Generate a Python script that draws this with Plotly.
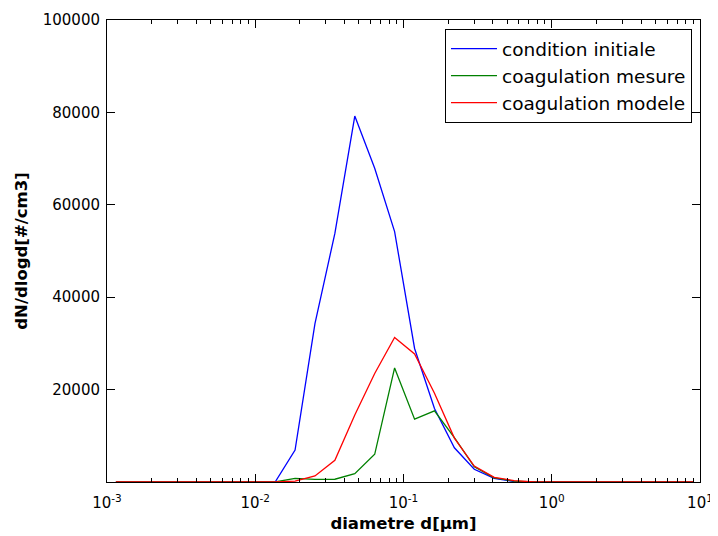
import plotly.graph_objects as go

diametre = [0.001148, 0.001563, 0.002132, 0.002904, 0.003955, 0.005388, 0.007339, 0.0100,
            0.01362, 0.01856, 0.02528, 0.03444, 0.04693, 0.06393, 0.0871, 0.1188,
            0.1618, 0.2204, 0.3002, 0.4090, 0.5572, 0.7591, 1.034, 1.409,
            1.919, 2.615, 3.563, 4.854, 6.613, 9.01]

condition_initiale = [0, 0, 0, 0, 0, 0, 0, 0,
                      0, 6900, 34300, 53800, 79200, 67900, 54200, 28900,
                      15900, 7400, 2750, 800, 100, 0, 0, 0,
                      0, 0, 0, 0, 0, 0]

coagulation_mesure = [0, 0, 0, 0, 0, 0, 0, 0,
                      0, 800, 550, 600, 1800, 6000, 24700, 13600,
                      15400, 9600, 3300, 900, 200, 0, 0, 0,
                      0, 0, 0, 0, 0, 0]

coagulation_modele = [0, 0, 0, 0, 0, 0, 0, 0,
                      0, 200, 1300, 4700, 14500, 23500, 31300, 27700,
                      19200, 9500, 3460, 1000, 300, 0, 0, 0,
                      0, 0, 0, 0, 0, 0]

series_names = ["condition initiale", "coagulation mesure", "coagulation modele"]
series_colors = ["#0000ff", "#008000", "#ff0000"]

x_tickvals = [0.001, 0.01, 0.1, 1, 10]
x_ticktext = ["10<sup>-3</sup>", "10<sup>-2</sup>", "10<sup>-1</sup>", "10<sup>0</sup>", "10<sup>1</sup>"]
x_minor_tickvals = [m * d for d in [0.001, 0.01, 0.1, 1] for m in range(2, 10)]
y_tickvals = [0, 20000, 40000, 60000, 80000, 100000]
y_ticktext = ["", "20000", "40000", "60000", "80000", "100000"]

fig = go.Figure()
for name, vals, col in zip(series_names,
                           [condition_initiale, coagulation_mesure, coagulation_modele],
                           series_colors):
    fig.add_trace(go.Scatter(x=diametre, y=vals, mode="lines", name=name,
                             line=dict(color=col, width=1.3)))

fig.update_layout(
    width=710, height=528,
    margin=dict(l=99, r=18, t=12, b=54),
    paper_bgcolor="white", plot_bgcolor="white",
    font=dict(family="DejaVu Sans", size=15, color="black"),
    showlegend=True,
    legend=dict(x=0.9865, y=0.9805, xanchor="right", yanchor="top",
                bordercolor="black", borderwidth=1, bgcolor="white",
                font=dict(size=18.5, family="DejaVu Sans"),
                itemwidth=46, entrywidth=242, entrywidthmode="pixels"),
)
fig.update_xaxes(
    type="log", range=[-3, 1], automargin=False,
    tickvals=x_tickvals, ticktext=x_ticktext,
    ticks="inside", ticklen=8, tickwidth=1, tickcolor="black",
    ticklabelstandoff=7,
    minor=dict(tickvals=x_minor_tickvals, ticks="inside", ticklen=4,
               tickcolor="black", showgrid=False),
    showline=True, linecolor="black", linewidth=1, mirror="allticks",
    showgrid=False, zeroline=False,
    tickfont=dict(size=15),
    title=dict(text="<b>diametre d[µm]</b>", font=dict(size=16.5), standoff=6),
)
fig.update_yaxes(
    range=[0, 100000], automargin=False,
    tickvals=y_tickvals, ticktext=y_ticktext,
    ticks="inside", ticklen=8, tickwidth=1, tickcolor="black",
    ticklabelstandoff=3,
    showline=True, linecolor="black", linewidth=1, mirror="allticks",
    showgrid=False, zeroline=False,
    tickfont=dict(size=15),
    title=dict(text="<b>dN/dlogd[#/cm3]</b>", font=dict(size=16.5), standoff=10),
)

fig.write_html("out.html")
